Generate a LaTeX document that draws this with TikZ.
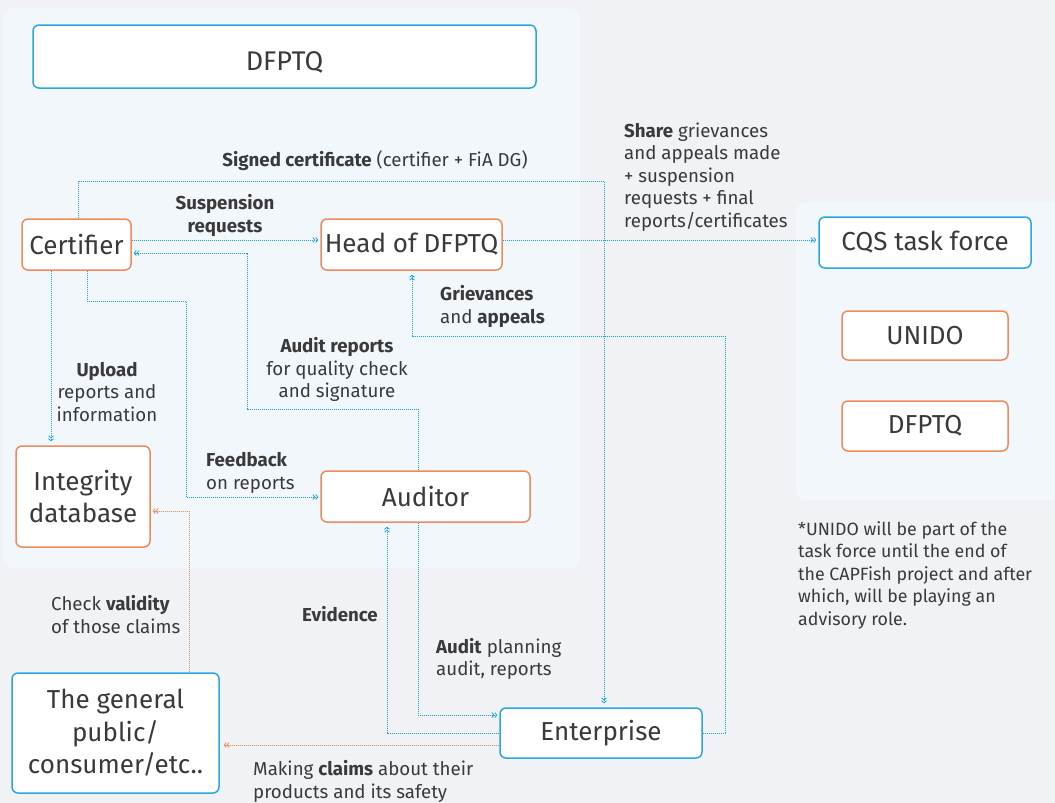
\documentclass[tikz,border=0pt]{standalone}
\usepackage{fontspec}
\setmainfont{Fira Sans}
\usetikzlibrary{arrows.meta}
\definecolor{bg}{HTML}{F0F2F5}
\definecolor{panel}{HTML}{F2F7FB}
\definecolor{bblue}{HTML}{29A8E0}
\definecolor{oorange}{HTML}{F08A5D}
\definecolor{txt}{HTML}{3A3A3A}
\definecolor{lblue}{HTML}{1BA3E3}
\tikzset{
  box/.style={draw, line width=1.5pt, rounded corners=6pt, fill=white, text=txt, inner sep=0pt, align=center, font=\fontsize{26}{32.5}\selectfont},
  bbox/.style={box, draw=bblue},
  obox/.style={box, draw=oorange},
  tip/.style={-{Straight Barb[length=2pt,width=5pt,line width=0.8pt] Straight Barb[length=2pt,width=5pt,line width=0.8pt]}},
  conn/.style={draw=lblue, line width=1pt, dash pattern=on 1pt off 1pt, tip, shorten >=2pt},
  oconn/.style={conn, draw=oorange},
  lbl/.style={text=txt, inner sep=0pt, font=\fontsize{18.7}{22.5}\selectfont},
}
\begin{document}
\begin{tikzpicture}[x=1pt,y=-1pt]
\fill[bg] (0,0) rectangle (1055,803);
\useasboundingbox (0,0) rectangle (1055,803);
\fill[panel, rounded corners=10pt] (3,8) rectangle (580,568);
\fill[panel, rounded corners=10pt] (796,202) rectangle (1070,500);

\node[bbox, minimum width=503pt, minimum height=63pt, text height=27pt, text depth=0pt, font=\fontsize{27}{32}\selectfont] (top) at (284.5,56.5) {DFPTQ};
\node[obox, minimum width=109pt, minimum height=51pt] (cert) at (76.5,244.5) {Certifier};
\node[obox, minimum width=181pt, minimum height=51pt] (head) at (411.5,244.5) {Head of DFPTQ};
\node[bbox, minimum width=212pt, minimum height=51pt] (cqs) at (925,242.5) {CQS task force};
\node[obox, minimum width=166pt, minimum height=49pt] (unido) at (925,335.5) {UNIDO};
\node[obox, minimum width=166pt, minimum height=50pt] (dfptq) at (925,426) {DFPTQ};
\node[obox, minimum width=134pt, minimum height=101pt] (integ) at (83,496.5) {Integrity\\database};
\node[obox, minimum width=209pt, minimum height=51pt] (aud) at (425.5,496.5) {Auditor};
\node[bbox, minimum width=207pt, minimum height=120pt] (pub) at (115.5,733) {The general\\public/\\consumer/etc..};
\node[bbox, minimum width=202pt, minimum height=50pt] (ent) at (601,733) {Enterprise};

% coordinates
\coordinate (sA) at (78,181); \coordinate (sB) at (604,181);
\coordinate (a1) at (418,409); \coordinate (a2) at (247,409); \coordinate (a3) at (247,253);
\coordinate (f1) at (87,301); \coordinate (f2) at (186,301); \coordinate (f3) at (186,497);
\coordinate (u1) at (51,300);
\coordinate (g1) at (725,733); \coordinate (g2) at (725,336); \coordinate (g3) at (412,336);
\coordinate (e1) at (387,733);
\coordinate (p1) at (418,715);
\coordinate (c1) at (500,745);
\coordinate (v1) at (189,511);

\draw[conn, shorten >=4pt] (cert.north -| sA) -- (sA) -- (sB) -- (ent.north -| sB);
\draw[conn] ([yshift=4.5pt]cert.east) -- ([yshift=4.5pt]head.west);
\draw[conn] ([yshift=4.5pt]head.east) -- ([yshift=4.5pt]head.east -| cqs.west);
\draw[conn] (aud.north -| a1) -- (a1) -- (a2) -- (a3) -- (a3 -| cert.east);
\draw[conn] (cert.south -| f1) -- (f1) -- (f2) -- (f3) -- (f3 -| aud.west);
\draw[conn, shorten >=4pt] (cert.south -| u1) -- (integ.north -| u1);
\draw[conn, shorten >=4pt] (g1 -| ent.east) -- (g1) -- (g2) -- (g3) -- (head.south -| g3);
\draw[conn, shorten >=4pt] (e1 -| ent.west) -- (e1) -- (aud.south -| e1);
\draw[conn] (aud.south -| p1) -- (p1) -- (p1 -| ent.west);
\draw[oconn, shorten >=4pt] (c1 -| ent.west) -- (c1 -| pub.east);
\draw[oconn] (pub.north -| v1) -- (v1) -- (v1 -| integ.east);

% labels
\node[lbl] (lsig) at (375,161) {\textbf{Signed certificate} (certifier + FiA DG)};
\node[lbl, align=center] (lsusp) at (225,215.5) {\textbf{Suspension}\\\textbf{requests}};
\node[lbl, align=left, anchor=west] (lshare) at (624,177) {\textbf{Share} grievances\\and appeals made\\+ suspension\\requests + final\\reports/certificates};
\node[lbl, align=left, anchor=west] (lgriev) at (440,306.5) {\textbf{Grievances}\\and \textbf{appeals}};
\node[lbl, align=center] (laudit) at (337,369.5) {\textbf{Audit reports}\\for quality check\\and signature};
\node[lbl, align=center] (lup) at (107,392) {\textbf{Upload}\\reports and\\information};
\node[lbl, align=left, anchor=west] (lfeed) at (206,473) {\textbf{Feedback}\\on reports};
\node[lbl, anchor=east] (levid) at (378,614) {\textbf{Evidence}};
\node[lbl, align=left, anchor=west] (lplan) at (436,659) {\textbf{Audit} planning\\audit, reports};
\node[lbl, align=left, anchor=west] (lclaim) at (253,781.5) {Making \textbf{claims} about their\\products and its safety};
\node[lbl, align=left, anchor=west] (lval) at (51,614.5) {Check \textbf{validity}\\of those claims};
\node[lbl, align=left, anchor=west, font=\fontsize{17.8}{22.5}\selectfont] (lnote) at (798,575) {*UNIDO will be part of the\\task force until the end of\\the CAPFish project and after\\which, will be playing an\\advisory role.};
\end{tikzpicture}
\end{document}
